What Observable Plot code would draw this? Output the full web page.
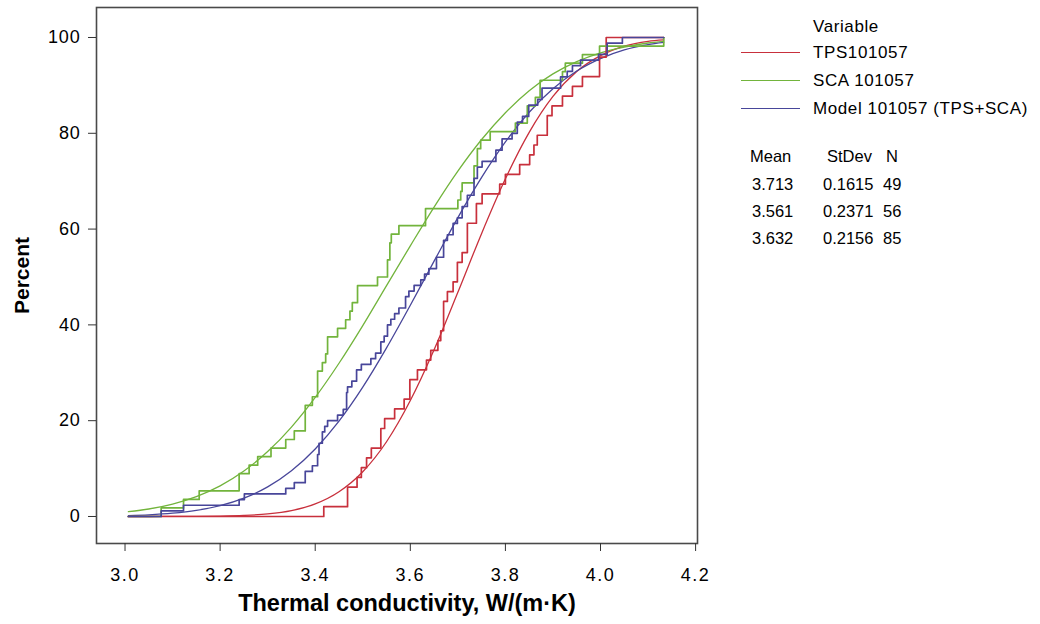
<!DOCTYPE html>
<html><head><meta charset="utf-8">
<script src="https://cdn.jsdelivr.net/npm/d3@7"></script>
<script src="https://cdn.jsdelivr.net/npm/@observablehq/plot@0.6"></script>
<style>
body{margin:0;background:#fff;font-family:"Liberation Sans",Arial,sans-serif;}
#wrap{position:relative;width:1040px;height:624px;}
.lg{position:absolute;font-size:17px;color:#000;white-space:nowrap;line-height:20px;transform:translateY(-50%);letter-spacing:0.6px;}
.tb{letter-spacing:0;font-size:16.5px;}
.ln{position:absolute;height:0;border-top:1.5px solid;}
</style></head><body><div id="wrap"></div><script>
// ---------- data ----------
const seriesNames = ["TPS101057", "SCA 101057", "Model 101057 (TPS+SCA)"];
const seriesColors = ["#c8303c", "#72b43c", "#48469a"];
const statMean = ["3.713", "3.561", "3.632"];
const statStDev = ["0.1615", "0.2371", "0.2156"];
const statN = ["49", "56", "85"];
const xTicks = [3.0, 3.2, 3.4, 3.6, 3.8, 4.0, 4.2];
const yTicks = [0, 20, 40, 60, 80, 100];

// empirical CDF steps (x where the step occurs, percent after the step)
const tpsStepX = [3.007,3.418,3.468,3.488,3.497,3.508,3.518,3.538,3.546,3.567,3.587,3.599,3.615,3.634,3.643,3.658,3.664,3.670,3.678,3.690,3.699,3.709,3.720,3.739,3.751,3.788,3.800,3.830,3.851,3.860,3.867,3.888,3.898,3.920,3.941,3.962,3.998,4.012,4.133];
const tpsStepP = [0,2.04,6.12,8.16,10.20,12.24,14.29,18.37,20.41,22.45,24.49,28.57,30.61,32.65,34.69,36.73,38.78,44.90,46.94,48.98,53.06,55.10,61.22,65.31,67.35,69.39,71.43,73.47,75.51,77.55,79.59,83.67,85.71,87.76,89.80,91.84,95.92,100,100];

const scaStepX = [3.007,3.076,3.123,3.156,3.240,3.261,3.279,3.307,3.338,3.356,3.379,3.394,3.405,3.415,3.422,3.426,3.447,3.464,3.473,3.478,3.489,3.531,3.552,3.557,3.560,3.576,3.632,3.700,3.706,3.709,3.734,3.741,3.748,3.768,3.821,3.846,3.863,3.873,3.920,3.926,3.962,3.998,4.133];
const scaStepP = [0,1.79,3.57,5.36,8.93,10.71,12.50,14.29,16.07,17.86,23.21,25.00,30.36,32.14,33.93,37.50,39.29,41.07,42.86,44.64,48.21,50.00,53.57,57.14,58.93,60.71,64.29,66.07,67.86,69.64,73.21,76.79,78.57,80.36,82.14,85.71,87.50,91.07,92.86,94.64,96.43,98.21,100];

const modStepX = [3.007,3.076,3.123,3.240,3.251,3.338,3.356,3.379,3.394,3.405,3.408,3.415,3.420,3.426,3.447,3.459,3.466,3.468,3.477,3.487,3.497,3.517,3.527,3.538,3.545,3.552,3.559,3.567,3.576,3.590,3.597,3.608,3.622,3.630,3.639,3.655,3.670,3.678,3.690,3.699,3.709,3.720,3.734,3.741,3.751,3.780,3.793,3.814,3.825,3.836,3.849,3.868,3.877,3.916,3.930,3.941,3.958,3.996,4.014,4.046,4.133];
const modStepP = [0,1.18,2.35,3.53,4.71,5.88,7.06,9.41,10.59,12.94,15.29,17.65,18.82,20.00,21.18,22.35,25.88,27.06,28.24,30.59,31.76,32.94,34.12,36.47,37.65,40.00,41.18,42.35,43.53,45.88,47.06,48.24,49.41,50.59,51.76,54.12,57.65,58.82,61.18,62.35,64.71,67.06,70.59,72.94,74.12,76.47,78.82,80.00,82.35,83.53,85.88,87.06,89.41,91.76,92.94,94.12,95.29,96.47,98.82,100,100];

// fitted CDF curves
const fitX = [3.007,3.05,3.10,3.15,3.20,3.25,3.30,3.35,3.40,3.45,3.50,3.55,3.60,3.65,3.70,3.75,3.80,3.85,3.90,3.95,4.00,4.05,4.10,4.133];
const tpsFitP = [0,0,0.01,0.02,0.07,0.21,0.53,1.23,2.62,5.16,9.34,15.6,24.2,34.8,46.8,59.1,70.5,80.2,87.7,92.9,96.2,98.2,99.2,99.5];
const scaFitP = [1.0,1.56,2.6,4.15,6.39,9.48,13.55,18.67,24.86,31.99,39.86,48.2,56.5,64.6,72.1,78.7,84.3,88.9,92.4,94.96,96.8,98.0,98.85,99.2];
const modFitP = [0.2,0.35,0.68,1.27,2.25,3.82,6.18,9.54,14.1,19.9,27.0,35.2,44.1,53.3,62.4,70.8,78.2,84.4,89.3,93.0,95.6,97.4,98.5,98.96];

// ---------- build tables ----------
const steps = [];
[[tpsStepX,tpsStepP],[scaStepX,scaStepP],[modStepX,modStepP]].forEach(([xs,ps],i)=>{
  xs.forEach((x,j)=>steps.push({s:seriesNames[i], x, p:ps[j]}));
});
const fits = [];
[tpsFitP,scaFitP,modFitP].forEach((ps,i)=>{
  fitX.forEach((x,j)=>fits.push({s:seriesNames[i], x, p:ps[j]}));
});

const chart = Plot.plot({
  width: 1040, height: 624,
  marginLeft: 96, marginRight: 343, marginTop: 7, marginBottom: 81,
  style: {fontFamily: '"Liberation Sans", Arial, sans-serif', background: "#fff"},
  x: {domain: [2.94, 4.204]},
  y: {domain: [-5.64, 106.26]},
  color: {domain: seriesNames, range: seriesColors},
  marks: [
    Plot.line(fits, {x: "x", y: "p", z: "s", stroke: "s", strokeWidth: 1.3, curve: "monotone-x"}),
    Plot.line(steps, {x: "x", y: "p", z: "s", stroke: "s", strokeWidth: 1.7, curve: "step-after"}),
    Plot.frame({stroke: "#4a4a4a", strokeWidth: 1.6}),
    Plot.axisX({ticks: xTicks, tickSize: 8, tickPadding: 17, tickFormat: d3.format(".1f"), fontSize: 18, label: null, stroke: "#333"}),
    Plot.axisY({ticks: yTicks, tickSize: 8, tickPadding: 8, fontSize: 18, label: null, stroke: "#333"}),
    Plot.text(["Thermal conductivity, W/(m·K)"], {frameAnchor: "bottom", dy: 67, dx: 10, fontSize: 23.5, fontWeight: "bold", fill: "#000"}),
    Plot.text(["Percent"], {frameAnchor: "left", textAnchor: "middle", dx: -74, rotate: -90, fontSize: 21, fontWeight: "bold", fill: "#000"})
  ]
});
chart.querySelectorAll('[aria-label="x-axis tick label"] text').forEach(t => t.setAttribute("letter-spacing", "1.5"));
chart.querySelectorAll('[aria-label="y-axis tick label"] text').forEach(t => t.setAttribute("letter-spacing", "0.8"));
const wrap = document.getElementById("wrap");
wrap.appendChild(chart);

// ---------- legend (right of the plot) ----------
function txt(s, left, cy, cls){const d=document.createElement("div");d.className="lg"+(cls?" "+cls:"");d.textContent=s;d.style.left=left+"px";d.style.top=cy+"px";wrap.appendChild(d);}
txt("Variable", 813, 27);
const rowY = [53, 81, 108.5];
seriesNames.forEach((n,i)=>{
  const l=document.createElement("div");l.className="ln";l.style.left="741px";l.style.width="59px";l.style.top=(rowY[i]-0.75)+"px";l.style.borderColor=seriesColors[i];wrap.appendChild(l);
  txt(n, 813, rowY[i]);
});
txt("Mean", 750, 156, "tb"); txt("StDev", 827, 156, "tb"); txt("N", 886, 156, "tb");
const statY = [183.5, 210.5, 237.5];
statMean.forEach((m,i)=>{ txt(m, 752, statY[i], "tb"); txt(statStDev[i], 823, statY[i], "tb"); txt(statN[i], 883, statY[i], "tb"); });
</script></body></html>
